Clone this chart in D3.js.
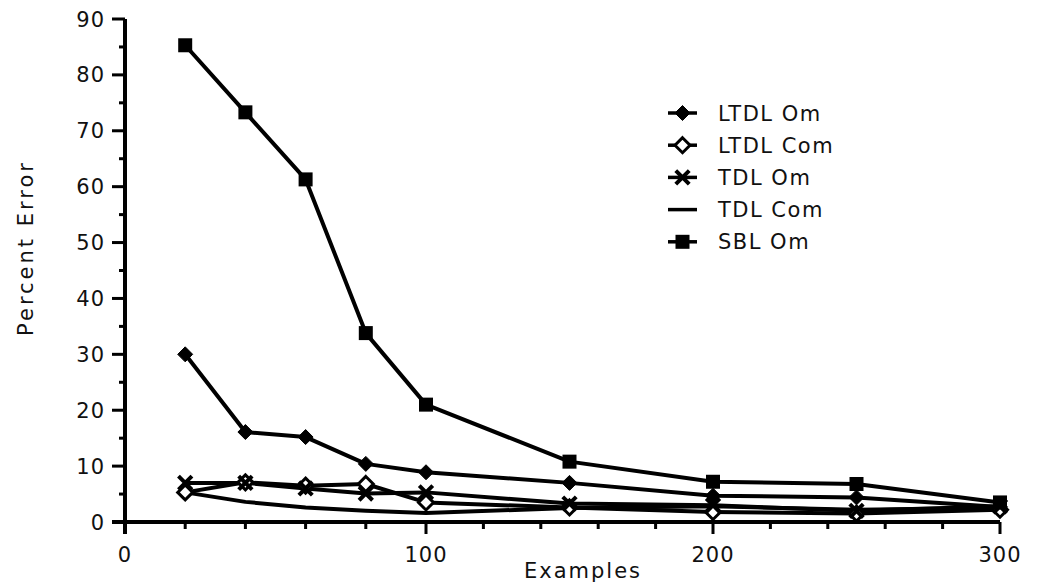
<!DOCTYPE html>
<html>
<head>
<meta charset="utf-8">
<script src="https://cdn.jsdelivr.net/npm/d3@7"></script>
<style>
  html, body { margin: 0; padding: 0; background: #fff; }
  svg text { font-family: "DejaVu Sans", sans-serif; fill: #111; }
</style>
</head>
<body>
<svg id="chart" width="1049" height="582"></svg>
<script>
// ---- data ----
const examples = [20, 40, 60, 80, 100, 150, 200, 250, 300];
const ltdlOm  = [30.0, 16.1, 15.2, 10.4, 8.9, 7.0, 4.7, 4.4, 2.7];
const ltdlCom = [5.3, 7.1, 6.5, 6.8, 3.5, 2.6, 1.8, 1.5, 2.2];
const tdlOm   = [7.0, 7.0, 6.0, 5.1, 5.3, 3.3, 3.0, 2.0, 2.8];
const tdlCom  = [5.3, 3.6, 2.6, 2.0, 1.6, 2.5, 2.8, 2.2, 2.5];
const sblOm   = [85.3, 73.3, 61.3, 33.8, 21.0, 10.8, 7.2, 6.8, 3.5];
const seriesNames = ["LTDL Om", "LTDL Com", "TDL Om", "TDL Com", "SBL Om"];
const seriesMarkers = ["diamond", "diamondOpen", "x", "none", "square"];
const xTickLabels = [0, 100, 200, 300];
const yTickLabels = [0, 10, 20, 30, 40, 50, 60, 70, 80, 90];
const xTitle = "Examples";
const yTitle = "Percent Error";

const seriesValues = [ltdlOm, ltdlCom, tdlOm, tdlCom, sblOm];

// ---- layout ----
const svg = d3.select("#chart");
const x = d3.scaleLinear().domain([0, 100, 200, 300]).range([125, 426, 713, 1000]);
const y = d3.scaleLinear().domain([0, 90]).range([522, 19]);
const ink = "#000";
const FS = 21;

const yMinor = d3.range(5, 90, 10);
const xMinor = d3.range(0, 301, 20).filter(v => v % 100 !== 0);
const axes = svg.append("g");

// y axis
axes.append("rect").attr("x", x(0) - 2).attr("y", y(90)).attr("width", 4).attr("height", y(0) + 12 - y(90))
  .attr("fill", ink);
axes.selectAll("rect.ymaj").data(yTickLabels).join("rect").attr("class", "ymaj")
  .attr("x", x(0) - 13).attr("y", d => y(d) - 1.5).attr("width", 13).attr("height", 3)
  .attr("fill", ink);
axes.selectAll("rect.ymin").data(yMinor).join("rect").attr("class", "ymin")
  .attr("x", x(0) - 6).attr("y", d => y(d) - 1.5).attr("width", 6).attr("height", 3)
  .attr("fill", ink);
axes.selectAll("text.ylab").data(yTickLabels).join("text").attr("class", "ylab")
  .attr("x", x(0) - 20).attr("y", d => y(d)).attr("dy", "0.36em").attr("text-anchor", "end")
  .style("font-size", FS + "px").attr("letter-spacing", 1).text(d => d);

// x axis
axes.append("rect").attr("x", x(0) - 13).attr("y", y(0) - 2).attr("width", x(300) - x(0) + 13).attr("height", 4)
  .attr("fill", ink);
axes.selectAll("rect.xmaj").data(xTickLabels).join("rect").attr("class", "xmaj")
  .attr("x", d => x(d) - 1.5).attr("y", y(0)).attr("width", 3).attr("height", 12)
  .attr("fill", ink);
axes.selectAll("rect.xmin").data(xMinor).join("rect").attr("class", "xmin")
  .attr("x", d => x(d) - 1.5).attr("y", y(0)).attr("width", 3).attr("height", 7)
  .attr("fill", ink);
axes.selectAll("text.xlab").data(xTickLabels).join("text").attr("class", "xlab")
  .attr("x", d => x(d)).attr("y", y(0) + 40).attr("text-anchor", "middle")
  .style("font-size", FS + "px").attr("letter-spacing", 1).text(d => d);

// titles
svg.append("text").attr("x", 583).attr("y", 578).attr("text-anchor", "middle")
  .style("font-size", FS + "px").attr("letter-spacing", 2).text(xTitle);
svg.append("text").attr("transform", "translate(33,248) rotate(-90)").attr("text-anchor", "middle")
  .style("font-size", FS + "px").attr("letter-spacing", 3).text(yTitle);

// markers
function drawMarker(g, type, cx, cy) {
  if (type === "diamond" || type === "diamondOpen") {
    g.append("path")
      .attr("d", `M${cx},${cy - 7.5}L${cx + 7.5},${cy}L${cx},${cy + 7.5}L${cx - 7.5},${cy}Z`)
      .attr("fill", type === "diamond" ? ink : "#fff")
      .attr("stroke", ink).attr("stroke-width", type === "diamond" ? 1 : 3);
  } else if (type === "square") {
    g.append("rect").attr("x", cx - 7).attr("y", cy - 7).attr("width", 14).attr("height", 14)
      .attr("fill", ink);
  } else if (type === "x") {
    g.append("path")
      .attr("d", d3.symbol(d3.symbolX, 120)())
      .attr("transform", `translate(${cx},${cy})`)
      .attr("fill", "none").attr("stroke", ink).attr("stroke-width", 4);
  }
}

const line = d3.line().x(d => x(d[0])).y(d => y(d[1]));
const plot = svg.append("g");
seriesValues.forEach((vals, i) => {
  const pts = examples.map((e, j) => [e, vals[j]]);
  plot.append("path").datum(pts).attr("d", line)
    .attr("fill", "none").attr("stroke", ink).attr("stroke-width", 4)
    .attr("stroke-linejoin", "round");
});
seriesValues.forEach((vals, i) => {
  const g = plot.append("g");
  examples.forEach((e, j) => drawMarker(g, seriesMarkers[i], x(e), y(vals[j])));
});

// legend
const legend = svg.append("g");
seriesNames.forEach((name, i) => {
  const ly = 113 + i * 32.2;
  legend.append("line").attr("x1", 668).attr("x2", 697).attr("y1", ly).attr("y2", ly)
    .attr("stroke", ink).attr("stroke-width", 3.5);
  drawMarker(legend, seriesMarkers[i], 682.5, ly);
  legend.append("text").attr("x", 718).attr("y", ly).attr("dy", "0.36em")
    .style("font-size", FS + "px").attr("letter-spacing", 1.5).text(name);
});
</script>
</body>
</html>
